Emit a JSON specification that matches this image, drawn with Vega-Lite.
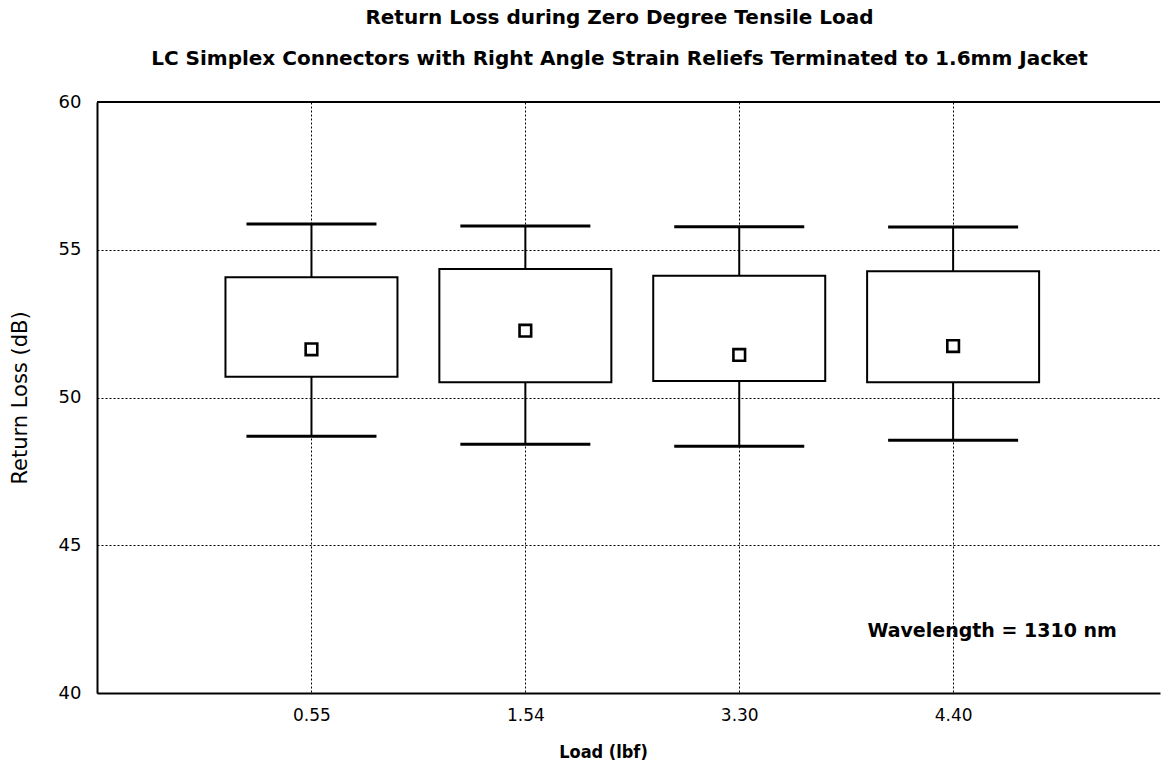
{
  "$schema": "https://vega.github.io/schema/vega-lite/v6.json",
  "autosize": {"type": "none"},
  "width": 1063,
  "height": 591,
  "padding": {"left": 97, "top": 102, "right": 1, "bottom": 89},
  "background": "white",
  "view": {"stroke": null, "strokeWidth": 0},
  "title": {
    "text": ["Return Loss during Zero Degree Tensile Load", "LC Simplex Connectors with Right Angle Strain Reliefs Terminated to 1.6mm Jacket"],
    "font": "DejaVu Sans",
    "fontSize": 20,
    "fontWeight": "bold",
    "color": "black",
    "lineHeight": 41,
    "anchor": "middle",
    "dx": -9,
    "offset": 24
  },
  "config": {
    "view": {"stroke": null, "strokeWidth": 0},
    "axis": {"labelFont": "DejaVu Sans", "titleFont": "DejaVu Sans", "labelColor": "black", "titleColor": "black"}
  },
  "data": {
    "values": [
      {"load": "0.55", "min": 48.69, "q1": 50.70, "mean": 51.63, "q3": 54.07, "max": 55.87},
      {"load": "1.54", "min": 48.42, "q1": 50.52, "mean": 52.26, "q3": 54.35, "max": 55.80},
      {"load": "3.30", "min": 48.35, "q1": 50.56, "mean": 51.44, "q3": 54.12, "max": 55.78},
      {"load": "4.40", "min": 48.55, "q1": 50.52, "mean": 51.74, "q3": 54.27, "max": 55.77}
    ]
  },
  "layer": [
    {
      "encoding": {
        "x": {
          "field": "load", "type": "ordinal", "sort": ["0.55", "1.54", "3.30", "4.40"],
          "scale": {"type": "point", "padding": 0.985, "align": 0.509},
          "axis": {
            "title": "Load  (lbf)", "titleFont": "DejaVu Sans Condensed, Liberation Sans, sans-serif", "titleFontWeight": "bold", "titleFontSize": 18, "titlePadding": 20, "titleX": 506,
            "labelAngle": 0, "labelFontSize": 17, "labelPadding": 14, "ticks": false,
            "domainColor": "black", "domainWidth": 2,
            "grid": true, "gridColor": "black", "gridDash": [2, 2], "gridWidth": 1, "gridOpacity": 1
          }
        }
      },
      "layer": [
        {
          "mark": {"type": "rule", "color": "black", "strokeWidth": 2},
          "encoding": {
            "y": {
              "field": "min", "type": "quantitative",
              "scale": {"domain": [40, 60], "nice": false, "zero": false},
              "axis": {
                "values": [40, 45, 50, 55, 60], "title": "Return Loss  (dB)", "titleFontSize": 21, "titleFontWeight": "normal", "titlePadding": 28,
                "labelFontSize": 18, "labelPadding": 16, "ticks": false,
                "domainColor": "black", "domainWidth": 2,
                "grid": true, "gridColor": "black", "gridDash": [2, 2], "gridWidth": 1, "gridOpacity": 1
              }
            },
            "y2": {"field": "max"}
          }
        },
        {
          "mark": {"type": "bar", "width": 172, "fill": "white", "stroke": "black", "strokeWidth": 2},
          "encoding": {
            "y": {"field": "q1", "type": "quantitative"},
            "y2": {"field": "q3"}
          }
        },
        {
          "mark": {"type": "tick", "size": 130, "thickness": 3, "color": "black", "opacity": 1},
          "encoding": {"y": {"field": "min", "type": "quantitative"}}
        },
        {
          "mark": {"type": "tick", "size": 130, "thickness": 3, "color": "black", "opacity": 1},
          "encoding": {"y": {"field": "max", "type": "quantitative"}}
        },
        {
          "mark": {"type": "point", "shape": "square", "filled": false, "fill": "white", "stroke": "black", "strokeWidth": 2.6, "size": 135, "opacity": 1},
          "encoding": {"y": {"field": "mean", "type": "quantitative"}}
        },
        {
          "data": {"values": [{"load": "4.40", "value": 42.1, "label": "Wavelength = 1310 nm"}]},
          "mark": {"type": "text", "font": "DejaVu Sans", "fontWeight": "bold", "fontSize": 19, "color": "black", "align": "center", "baseline": "middle", "dx": 39},
          "encoding": {
            "y": {"field": "value", "type": "quantitative"},
            "text": {"field": "label"}
          }
        }
      ]
    },
    {
      "data": {"values": [{"border": 60}]},
      "mark": {"type": "rule", "color": "black", "strokeWidth": 2},
      "encoding": {"y": {"field": "border", "type": "quantitative"}}
    }
  ]
}
